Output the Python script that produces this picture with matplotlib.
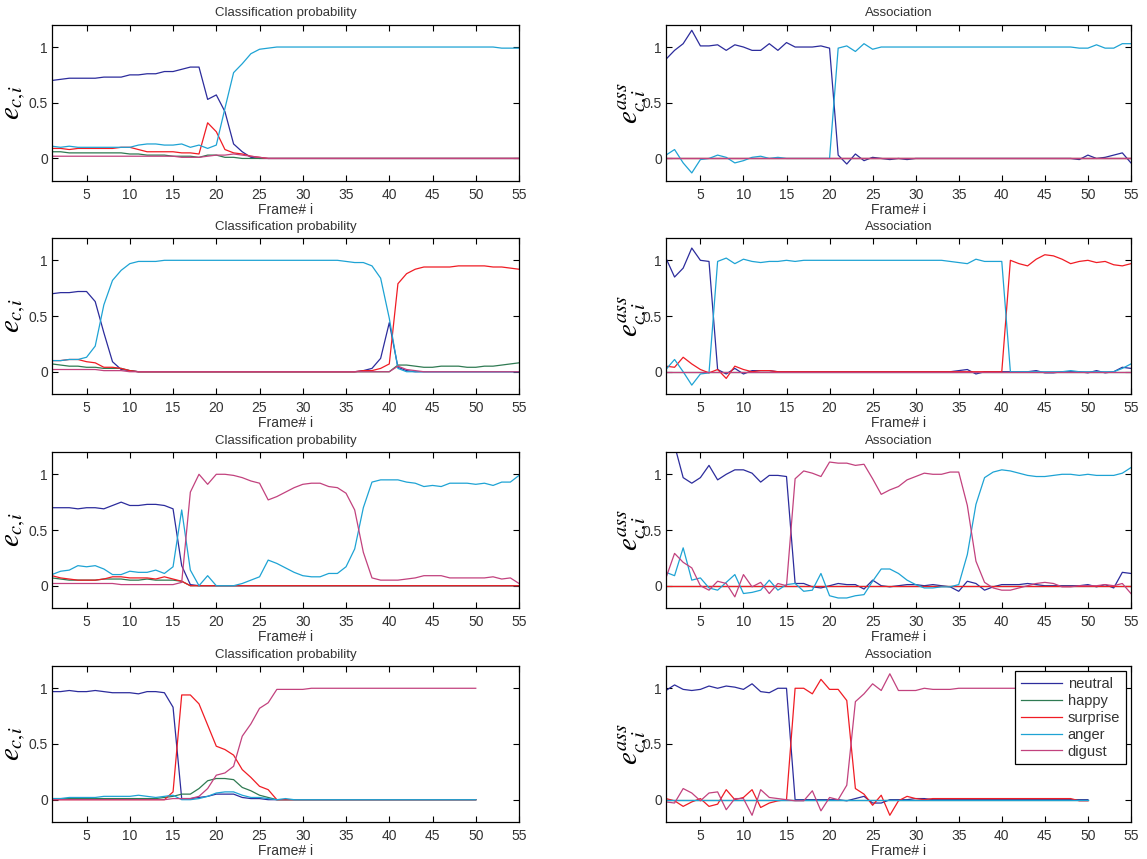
import matplotlib
matplotlib.use("Agg")
import matplotlib.pyplot as plt

plt.rcParams['font.family'] = ['Liberation Sans', 'DejaVu Sans']
plt.rcParams['mathtext.fontset'] = 'stix'

names = ["neutral", "happy", "surprise", "anger", "digust"]
colors = ["#2c2c9c", "#2f7a52", "#f01c24", "#1ea3d4", "#c2427e"]
xticks = [5, 10, 15, 20, 25, 30, 35, 40, 45, 50, 55]
yticks = [0, 0.5, 1]

# ---- row 1 : classification probability (frames 1..55)
c1_neutral = [0.70, 0.71, 0.72, 0.72, 0.72, 0.72, 0.73, 0.73, 0.73, 0.75, 0.75,
              0.76, 0.76, 0.78, 0.78, 0.80, 0.82, 0.82, 0.53, 0.57, 0.42, 0.13,
              0.06, 0.01, 0.00, 0.00, 0.00, 0.00, 0.00, 0.00, 0.00, 0.00, 0.00,
              0.00, 0.00, 0.00, 0.00, 0.00, 0.00, 0.00, 0.00, 0.00, 0.00, 0.00,
              0.00, 0.00, 0.00, 0.00, 0.00, 0.00, 0.00, 0.00, 0.00, 0.00, 0.00]
c1_happy = [0.06, 0.06, 0.05, 0.05, 0.05, 0.05, 0.05, 0.05, 0.05, 0.04, 0.04,
            0.03, 0.03, 0.03, 0.02, 0.02, 0.02, 0.01, 0.03, 0.03, 0.01, 0.01,
            0.00, 0.00, 0.00, 0.00, 0.00, 0.00, 0.00, 0.00, 0.00, 0.00, 0.00,
            0.00, 0.00, 0.00, 0.00, 0.00, 0.00, 0.00, 0.00, 0.00, 0.00, 0.00,
            0.00, 0.00, 0.00, 0.00, 0.00, 0.00, 0.00, 0.00, 0.00, 0.00, 0.00]
c1_surprise = [0.09, 0.09, 0.08, 0.09, 0.09, 0.09, 0.09, 0.09, 0.10, 0.10, 0.08,
               0.06, 0.06, 0.06, 0.06, 0.05, 0.05, 0.04, 0.32, 0.24, 0.08, 0.05,
               0.04, 0.02, 0.01, 0.00, 0.00, 0.00, 0.00, 0.00, 0.00, 0.00, 0.00,
               0.00, 0.00, 0.00, 0.00, 0.00, 0.00, 0.00, 0.00, 0.00, 0.00, 0.00,
               0.00, 0.00, 0.00, 0.00, 0.00, 0.00, 0.00, 0.00, 0.00, 0.00, 0.00]
c1_anger = [0.11, 0.10, 0.11, 0.10, 0.10, 0.10, 0.10, 0.10, 0.10, 0.10, 0.12,
            0.13, 0.13, 0.12, 0.12, 0.13, 0.10, 0.12, 0.09, 0.12, 0.45, 0.77,
            0.85, 0.94, 0.98, 0.99, 1.00, 1.00, 1.00, 1.00, 1.00, 1.00, 1.00,
            1.00, 1.00, 1.00, 1.00, 1.00, 1.00, 1.00, 1.00, 1.00, 1.00, 1.00,
            1.00, 1.00, 1.00, 1.00, 1.00, 1.00, 1.00, 1.00, 0.99, 0.99, 0.99]
c1_digust = [0.02, 0.02, 0.02, 0.02, 0.02, 0.02, 0.02, 0.02, 0.02, 0.02, 0.02,
             0.02, 0.02, 0.02, 0.02, 0.01, 0.01, 0.01, 0.02, 0.03, 0.03, 0.04,
             0.03, 0.02, 0.01, 0.00, 0.00, 0.00, 0.00, 0.00, 0.00, 0.00, 0.00,
             0.00, 0.00, 0.00, 0.00, 0.00, 0.00, 0.00, 0.00, 0.00, 0.00, 0.00,
             0.00, 0.00, 0.00, 0.00, 0.00, 0.00, 0.00, 0.00, 0.00, 0.00, 0.00]

# ---- row 1 : association
a1_neutral = [0.89, 0.97, 1.03, 1.15, 1.01, 1.01, 1.02, 0.97, 1.02, 1.00, 0.97,
              0.97, 1.03, 0.97, 1.04, 1.00, 1.00, 1.00, 1.01, 0.99, 0.03, -0.05,
              0.04, -0.02, 0.01, 0.00, -0.01, 0.00, -0.01, 0.00, 0.00, 0.00, 0.00,
              0.00, 0.00, 0.00, 0.00, 0.00, 0.00, 0.00, 0.00, 0.00, 0.00, 0.00,
              0.00, 0.00, 0.00, 0.00, -0.01, 0.03, 0.00, 0.01, 0.03, 0.05, -0.04]
a1_happy = [0.00, 0.00, 0.00, 0.00, 0.00, 0.00, 0.00, 0.00, 0.00, 0.00, 0.00,
            0.00, 0.00, 0.00, 0.00, 0.00, 0.00, 0.00, 0.00, 0.00, 0.00, 0.00,
            0.00, 0.00, 0.00, 0.00, 0.00, 0.00, 0.00, 0.00, 0.00, 0.00, 0.00,
            0.00, 0.00, 0.00, 0.00, 0.00, 0.00, 0.00, 0.00, 0.00, 0.00, 0.00,
            0.00, 0.00, 0.00, 0.00, 0.00, 0.00, 0.00, 0.00, 0.00, 0.00, 0.00]
a1_surprise = list(a1_happy)
a1_anger = [0.03, 0.08, -0.04, -0.13, -0.01, 0.00, 0.03, 0.01, -0.04, -0.02, 0.01,
            0.02, 0.00, 0.01, 0.00, 0.00, 0.00, 0.00, 0.00, 0.00, 0.99, 1.01,
            0.96, 1.03, 0.98, 1.00, 1.00, 1.00, 1.00, 1.00, 1.00, 1.00, 1.00,
            1.00, 1.00, 1.00, 1.00, 1.00, 1.00, 1.00, 1.00, 1.00, 1.00, 1.00,
            1.00, 1.00, 1.00, 1.00, 0.99, 0.99, 1.02, 0.99, 0.99, 1.03, 1.03]
a1_digust = list(a1_happy)

# ---- row 2 : classification probability
c2_neutral = [0.70, 0.71, 0.71, 0.72, 0.72, 0.63, 0.35, 0.09, 0.02, 0.01, 0.00,
              0.00, 0.00, 0.00, 0.00, 0.00, 0.00, 0.00, 0.00, 0.00, 0.00, 0.00,
              0.00, 0.00, 0.00, 0.00, 0.00, 0.00, 0.00, 0.00, 0.00, 0.00, 0.00,
              0.00, 0.00, 0.00, 0.01, 0.03, 0.12, 0.44, 0.04, 0.01, 0.00, 0.00,
              0.00, 0.00, 0.00, 0.00, 0.00, 0.00, 0.00, 0.00, 0.00, 0.00, 0.00]
c2_happy = [0.07, 0.06, 0.05, 0.05, 0.04, 0.04, 0.03, 0.03, 0.03, 0.01, 0.00,
            0.00, 0.00, 0.00, 0.00, 0.00, 0.00, 0.00, 0.00, 0.00, 0.00, 0.00,
            0.00, 0.00, 0.00, 0.00, 0.00, 0.00, 0.00, 0.00, 0.00, 0.00, 0.00,
            0.00, 0.00, 0.00, 0.00, 0.00, 0.00, 0.00, 0.06, 0.06, 0.05, 0.04,
            0.04, 0.05, 0.05, 0.05, 0.04, 0.04, 0.05, 0.05, 0.06, 0.07, 0.08]
c2_surprise = [0.10, 0.10, 0.11, 0.11, 0.09, 0.08, 0.04, 0.04, 0.03, 0.01, 0.00,
               0.00, 0.00, 0.00, 0.00, 0.00, 0.00, 0.00, 0.00, 0.00, 0.00, 0.00,
               0.00, 0.00, 0.00, 0.00, 0.00, 0.00, 0.00, 0.00, 0.00, 0.00, 0.00,
               0.00, 0.00, 0.00, 0.01, 0.01, 0.03, 0.07, 0.79, 0.88, 0.92, 0.94,
               0.94, 0.94, 0.94, 0.95, 0.95, 0.95, 0.95, 0.94, 0.94, 0.93, 0.92]
c2_anger = [0.10, 0.10, 0.11, 0.11, 0.13, 0.23, 0.60, 0.82, 0.91, 0.97, 0.99,
            0.99, 0.99, 1.00, 1.00, 1.00, 1.00, 1.00, 1.00, 1.00, 1.00, 1.00,
            1.00, 1.00, 1.00, 1.00, 1.00, 1.00, 1.00, 1.00, 1.00, 1.00, 1.00,
            1.00, 0.99, 0.98, 0.98, 0.95, 0.84, 0.48, 0.03, 0.00, 0.00, 0.00,
            0.00, 0.00, 0.00, 0.00, 0.00, 0.00, 0.00, 0.00, 0.00, 0.00, 0.00]
c2_digust = [0.02, 0.02, 0.02, 0.02, 0.02, 0.02, 0.01, 0.01, 0.01, 0.00, 0.00,
             0.00, 0.00, 0.00, 0.00, 0.00, 0.00, 0.00, 0.00, 0.00, 0.00, 0.00,
             0.00, 0.00, 0.00, 0.00, 0.00, 0.00, 0.00, 0.00, 0.00, 0.00, 0.00,
             0.00, 0.00, 0.00, 0.00, 0.00, 0.00, 0.00, 0.05, 0.02, 0.01, 0.00,
             0.00, 0.00, 0.00, 0.00, 0.00, 0.00, 0.00, 0.00, 0.00, 0.00, 0.00]

# ---- row 2 : association
a2_neutral = [1.02, 0.85, 0.93, 1.11, 1.00, 0.99, 0.02, -0.02, 0.03, -0.02, 0.01,
              0.01, 0.01, 0.00, 0.00, 0.00, 0.00, 0.00, 0.00, 0.00, 0.00, 0.00,
              0.00, 0.00, 0.00, 0.00, 0.00, 0.00, 0.00, 0.00, 0.00, 0.00, 0.00,
              0.00, 0.01, 0.02, -0.02, 0.00, 0.00, 0.00, 0.00, 0.00, 0.00, 0.01,
              -0.01, -0.01, 0.00, 0.00, 0.00, -0.01, 0.01, -0.01, 0.00, 0.04, 0.03]
a2_happy = list(a1_happy)
a2_surprise = [0.05, 0.04, 0.13, 0.07, 0.02, -0.01, 0.02, -0.06, 0.05, 0.02, 0.00,
               0.01, 0.01, 0.00, 0.00, 0.00, 0.00, 0.00, 0.00, 0.00, 0.00, 0.00,
               0.00, 0.00, 0.00, 0.00, 0.00, 0.00, 0.00, 0.00, 0.00, 0.00, 0.00,
               0.00, 0.00, 0.00, 0.00, 0.00, 0.00, 0.00, 1.00, 0.97, 0.95, 1.01,
               1.05, 1.04, 1.01, 0.97, 0.99, 1.00, 0.98, 0.99, 0.96, 0.95, 0.97]
a2_anger = [0.02, 0.11, 0.00, -0.12, -0.02, -0.01, 0.99, 1.02, 0.97, 1.01, 0.99,
            0.98, 0.99, 0.99, 1.00, 0.99, 1.00, 1.00, 1.00, 1.00, 1.00, 1.00,
            1.00, 1.00, 1.00, 1.00, 1.00, 1.00, 1.00, 1.00, 1.00, 1.00, 1.00,
            0.99, 0.98, 0.97, 1.01, 0.99, 0.99, 0.99, 0.00, 0.00, 0.00, 0.00,
            0.00, 0.00, 0.00, 0.01, 0.00, 0.00, 0.00, 0.00, 0.00, 0.03, 0.07]
a2_digust = list(a1_happy)

# ---- row 3 : classification probability
c3_neutral = [0.70, 0.70, 0.70, 0.69, 0.70, 0.70, 0.69, 0.72, 0.75, 0.72, 0.72,
              0.73, 0.73, 0.72, 0.69, 0.18, 0.01, 0.00, 0.00, 0.00, 0.00, 0.00,
              0.00, 0.00, 0.00, 0.00, 0.00, 0.00, 0.00, 0.00, 0.00, 0.00, 0.00,
              0.00, 0.00, 0.00, 0.00, 0.00, 0.00, 0.00, 0.00, 0.00, 0.00, 0.00,
              0.00, 0.00, 0.00, 0.00, 0.00, 0.00, 0.00, 0.00, 0.00, 0.00, 0.00]
c3_happy = [0.07, 0.06, 0.05, 0.05, 0.05, 0.05, 0.06, 0.06, 0.06, 0.05, 0.05,
            0.06, 0.05, 0.05, 0.05, 0.04, 0.00, 0.00, 0.00, 0.00, 0.00, 0.00,
            0.00, 0.00, 0.00, 0.00, 0.00, 0.00, 0.00, 0.00, 0.00, 0.00, 0.00,
            0.00, 0.00, 0.00, 0.00, 0.00, 0.00, 0.00, 0.00, 0.00, 0.00, 0.00,
            0.00, 0.00, 0.00, 0.00, 0.00, 0.00, 0.00, 0.00, 0.00, 0.00, 0.00]
c3_surprise = [0.09, 0.07, 0.06, 0.05, 0.05, 0.05, 0.06, 0.08, 0.08, 0.07, 0.07,
               0.07, 0.06, 0.08, 0.06, 0.04, 0.00, 0.00, 0.00, 0.00, 0.00, 0.00,
               0.00, 0.00, 0.00, 0.00, 0.00, 0.00, 0.00, 0.00, 0.00, 0.00, 0.00,
               0.00, 0.00, 0.00, 0.00, 0.00, 0.00, 0.00, 0.00, 0.00, 0.00, 0.00,
               0.00, 0.00, 0.00, 0.00, 0.00, 0.00, 0.00, 0.00, 0.00, 0.00, 0.00]
c3_anger = [0.10, 0.13, 0.14, 0.18, 0.17, 0.18, 0.15, 0.10, 0.10, 0.13, 0.12,
            0.12, 0.14, 0.11, 0.17, 0.68, 0.14, 0.00, 0.09, 0.00, 0.00, 0.00,
            0.02, 0.05, 0.08, 0.23, 0.20, 0.16, 0.12, 0.09, 0.08, 0.08, 0.11,
            0.11, 0.17, 0.33, 0.70, 0.93, 0.95, 0.95, 0.95, 0.93, 0.92, 0.89,
            0.90, 0.89, 0.92, 0.92, 0.92, 0.91, 0.92, 0.90, 0.93, 0.93, 0.99]
c3_digust = [0.02, 0.02, 0.02, 0.02, 0.02, 0.02, 0.02, 0.02, 0.01, 0.01, 0.01,
             0.01, 0.01, 0.01, 0.01, 0.03, 0.84, 1.00, 0.91, 1.00, 1.00, 0.99,
             0.97, 0.94, 0.92, 0.77, 0.80, 0.84, 0.88, 0.91, 0.92, 0.92, 0.89,
             0.88, 0.83, 0.68, 0.30, 0.07, 0.05, 0.05, 0.05, 0.06, 0.07, 0.09,
             0.09, 0.09, 0.07, 0.07, 0.07, 0.07, 0.07, 0.08, 0.06, 0.07, 0.02]

# ---- row 3 : association
a3_neutral = [1.50, 1.26, 0.97, 0.92, 0.97, 1.08, 0.95, 1.00, 1.04, 1.04, 1.01,
              0.93, 0.99, 0.99, 0.98, 0.02, 0.02, -0.01, -0.02, 0.00, 0.02, 0.01,
              0.01, -0.03, 0.05, 0.00, -0.01, 0.00, 0.01, 0.01, 0.00, 0.01, 0.00,
              -0.01, -0.05, 0.04, 0.02, -0.04, -0.01, 0.01, 0.01, 0.01, 0.02, 0.01,
              0.00, 0.00, 0.00, 0.00, 0.00, 0.01, -0.01, 0.01, -0.02, 0.12, 0.11]
a3_happy = list(a1_happy)
a3_surprise = list(a1_happy)
a3_anger = [0.12, 0.09, 0.34, 0.05, 0.07, -0.02, -0.04, 0.03, 0.10, -0.07, -0.06,
            -0.04, 0.05, -0.04, 0.01, 0.02, -0.05, -0.04, 0.11, -0.09, -0.11, -0.11,
            -0.09, -0.08, 0.04, 0.15, 0.15, 0.11, 0.05, 0.01, -0.02, -0.02, -0.01,
            -0.01, 0.01, 0.28, 0.73, 0.97, 1.02, 1.04, 1.03, 1.01, 0.99, 0.98,
            0.98, 0.99, 1.00, 1.00, 0.99, 1.00, 0.99, 0.99, 0.99, 1.01, 1.06]
a3_digust = [0.07, 0.29, 0.21, 0.16, 0.00, -0.04, 0.04, 0.02, -0.10, 0.10, -0.01,
             0.03, -0.07, 0.02, 0.00, 0.96, 1.03, 1.01, 0.98, 1.11, 1.10, 1.10,
             1.08, 1.09, 0.96, 0.82, 0.86, 0.89, 0.95, 0.98, 1.01, 1.00, 1.00,
             1.02, 1.02, 0.72, 0.22, 0.03, -0.02, -0.04, -0.04, -0.02, 0.00, 0.02,
             0.03, 0.02, -0.01, -0.01, 0.00, 0.00, 0.00, 0.01, 0.00, 0.02, -0.07]

# ---- row 4 : classification probability (frames 1..50)
c4_neutral = [0.97, 0.97, 0.98, 0.97, 0.97, 0.98, 0.97, 0.96, 0.96, 0.96,
              0.95, 0.97, 0.97, 0.96, 0.83, 0.01, 0.01, 0.02, 0.03, 0.05,
              0.05, 0.05, 0.02, 0.01, 0.01, 0.00, 0.00, 0.00, 0.00, 0.00,
              0.00, 0.00, 0.00, 0.00, 0.00, 0.00, 0.00, 0.00, 0.00, 0.00,
              0.00, 0.00, 0.00, 0.00, 0.00, 0.00, 0.00, 0.00, 0.00, 0.00]
c4_happy = [0.01, 0.01, 0.01, 0.01, 0.01, 0.01, 0.01, 0.01, 0.01, 0.01,
            0.01, 0.01, 0.01, 0.02, 0.03, 0.05, 0.05, 0.10, 0.17, 0.19,
            0.19, 0.18, 0.11, 0.08, 0.04, 0.02, 0.00, 0.00, 0.00, 0.00,
            0.00, 0.00, 0.00, 0.00, 0.00, 0.00, 0.00, 0.00, 0.00, 0.00,
            0.00, 0.00, 0.00, 0.00, 0.00, 0.00, 0.00, 0.00, 0.00, 0.00]
c4_surprise = [0.00, 0.00, 0.00, 0.00, 0.00, 0.00, 0.00, 0.00, 0.00, 0.00,
               0.00, 0.00, 0.00, 0.00, 0.07, 0.94, 0.94, 0.86, 0.67, 0.48,
               0.45, 0.40, 0.27, 0.20, 0.12, 0.09, 0.00, 0.00, 0.00, 0.00,
               0.00, 0.00, 0.00, 0.00, 0.00, 0.00, 0.00, 0.00, 0.00, 0.00,
               0.00, 0.00, 0.00, 0.00, 0.00, 0.00, 0.00, 0.00, 0.00, 0.00]
c4_anger = [0.01, 0.01, 0.02, 0.02, 0.02, 0.02, 0.03, 0.03, 0.03, 0.03,
            0.04, 0.03, 0.02, 0.03, 0.04, 0.00, 0.00, 0.01, 0.03, 0.06,
            0.07, 0.07, 0.04, 0.02, 0.02, 0.01, 0.00, 0.01, 0.00, 0.00,
            0.00, 0.00, 0.00, 0.00, 0.00, 0.00, 0.00, 0.00, 0.00, 0.00,
            0.00, 0.00, 0.00, 0.00, 0.00, 0.00, 0.00, 0.00, 0.00, 0.00]
c4_digust = [0.00, 0.00, 0.00, 0.00, 0.00, 0.00, 0.00, 0.00, 0.00, 0.00,
             0.00, 0.00, 0.00, 0.00, 0.01, 0.01, 0.01, 0.03, 0.10, 0.22,
             0.24, 0.30, 0.57, 0.68, 0.82, 0.87, 0.99, 0.99, 0.99, 0.99,
             1.00, 1.00, 1.00, 1.00, 1.00, 1.00, 1.00, 1.00, 1.00, 1.00,
             1.00, 1.00, 1.00, 1.00, 1.00, 1.00, 1.00, 1.00, 1.00, 1.00]

# ---- row 4 : association (frames 1..50)
a4_neutral = [0.98, 1.03, 0.99, 0.98, 0.99, 1.02, 1.00, 1.02, 1.01, 0.99,
              1.04, 0.97, 0.96, 1.00, 1.00, 0.00, 0.00, 0.00, 0.00, 0.00,
              0.00, -0.01, 0.01, 0.03, -0.03, -0.03, 0.00, 0.00, 0.00, 0.01,
              0.01, 0.00, 0.00, 0.00, 0.00, 0.00, 0.00, 0.00, 0.00, 0.00,
              0.00, 0.00, 0.00, 0.00, 0.00, 0.00, 0.00, 0.00, 0.00, 0.00]
a4_happy = [0.00, 0.00, 0.00, 0.00, 0.00, 0.00, 0.00, 0.00, 0.00, 0.00,
            0.00, 0.00, 0.00, 0.00, 0.00, 0.00, 0.00, 0.00, 0.00, 0.00,
            0.00, 0.00, 0.00, 0.00, 0.00, 0.00, 0.00, 0.00, 0.00, 0.00,
            0.00, 0.00, 0.00, 0.00, 0.00, 0.00, 0.00, 0.00, 0.00, 0.00,
            0.00, 0.00, 0.00, 0.00, 0.00, 0.00, 0.00, 0.00, 0.00, 0.00]
a4_surprise = [0.01, -0.01, -0.06, -0.02, 0.01, -0.06, -0.04, 0.09, 0.00, 0.02,
               0.09, -0.07, -0.03, -0.01, 0.00, 1.00, 1.00, 0.95, 1.08, 0.99,
               0.99, 0.89, 0.10, 0.05, -0.05, 0.04, -0.14, -0.01, 0.03, 0.01,
               0.00, 0.01, 0.01, 0.01, 0.01, 0.01, 0.01, 0.01, 0.01, 0.01,
               0.01, 0.01, 0.01, 0.01, 0.01, 0.01, 0.01, 0.01, -0.01, -0.01]
a4_anger = list(a4_happy)
a4_digust = [-0.02, -0.03, 0.10, 0.06, -0.01, 0.06, 0.07, -0.09, 0.01, 0.01,
             -0.14, 0.09, 0.02, 0.01, 0.00, -0.01, -0.01, 0.08, -0.10, 0.02,
             0.00, 0.13, 0.88, 0.95, 1.04, 0.98, 1.13, 0.98, 0.98, 0.98,
             1.00, 0.99, 0.99, 0.99, 1.00, 1.00, 1.00, 1.00, 1.00, 1.00,
             1.00, 1.00, 1.00, 1.00, 1.00, 1.00, 1.00, 1.00, 1.00, 1.00]

clf_rows = [
    [c1_neutral, c1_happy, c1_surprise, c1_anger, c1_digust],
    [c2_neutral, c2_happy, c2_surprise, c2_anger, c2_digust],
    [c3_neutral, c3_happy, c3_surprise, c3_anger, c3_digust],
    [c4_neutral, c4_happy, c4_surprise, c4_anger, c4_digust],
]
ass_rows = [
    [a1_neutral, a1_happy, a1_surprise, a1_anger, a1_digust],
    [a2_neutral, a2_happy, a2_surprise, a2_anger, a2_digust],
    [a3_neutral, a3_happy, a3_surprise, a3_anger, a3_digust],
    [a4_neutral, a4_happy, a4_surprise, a4_anger, a4_digust],
]

fig = plt.figure(figsize=(11.47, 8.59), dpi=100)

row_bottoms = [0.7896, 0.5413, 0.2922, 0.0431]
ax_h = 0.1816
text_col = "#333333"


def style_axes(ax, title, ylabel, label_x):
    ax.set_xlim(1, 55)
    ax.set_ylim(-0.2, 1.2)
    ax.set_xticks(xticks)
    ax.set_yticks(yticks)
    ax.set_yticklabels(["0", "0.5", "1"])
    ax.tick_params(direction="in", top=True, right=True, length=4, width=0.8,
                   labelsize=10, labelcolor=text_col, pad=3)
    ax.tick_params(axis="x", pad=5)
    for s in ax.spines.values():
        s.set_linewidth(0.9)
        s.set_color("black")
    ax.set_title(title, fontsize=9.5, color=text_col, pad=6)
    ax.set_xlabel("Frame# i", fontsize=10, color=text_col, labelpad=1)
    ax.set_ylabel(ylabel, fontsize=21, color="black")
    ax.yaxis.set_label_coords(label_x, 0.5)


for r in range(4):
    ax = fig.add_axes([0.0453, row_bottoms[r], 0.4072, ax_h])
    for series, name, col in zip(clf_rows[r], names, colors):
        frames = range(1, len(series) + 1)
        ax.plot(frames, series, color=col, lw=0.9, label=name)
    style_axes(ax, "Classification probability", r"$e_{c{,}i}$", -0.052)

    ax2 = fig.add_axes([0.5806, row_bottoms[r], 0.4054, ax_h])
    for series, name, col in zip(ass_rows[r], names, colors):
        frames = range(1, len(series) + 1)
        ax2.plot(frames, series, color=col, lw=0.9, label=name)
    style_axes(ax2, "Association", r"$e^{ass}_{c{,}i}$", -0.035)

    if r == 3:
        leg = ax2.legend(loc="upper right", fontsize=10.5, fancybox=False,
                         edgecolor="black", framealpha=1, handlelength=2.8,
                         labelspacing=0.2, borderaxespad=0.35,
                         handletextpad=0.4, borderpad=0.4)
        leg.get_frame().set_linewidth(0.9)
        for t in leg.get_texts():
            t.set_color(text_col)

fig.savefig("out.png", dpi=100)
